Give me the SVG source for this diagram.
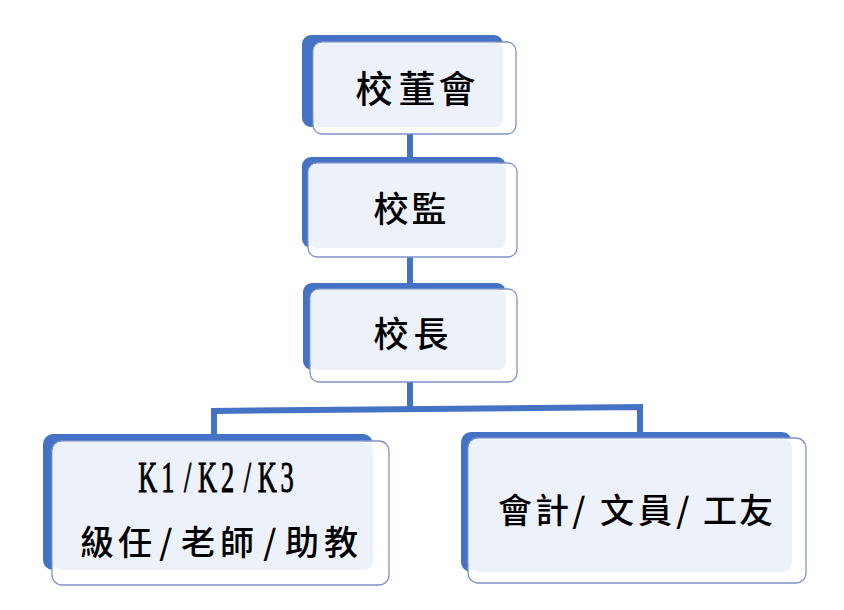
<svg xmlns="http://www.w3.org/2000/svg" width="844" height="610" viewBox="0 0 844 610">
<style>
.blue{fill:#4472C4}
.outer{fill:#FFFFFF;stroke:#7F93C4;stroke-width:1.3}
.inner{fill:#EDF1F9}
.edge{fill:none;stroke:#4472C4;stroke-width:6}
.t{font-family:"Noto Sans CJK TC","Noto Sans CJK SC",sans-serif;fill:#000;text-anchor:middle;font-weight:500}
.m{font-family:"Liberation Serif",serif;fill:#000;stroke:#000;stroke-width:1;text-anchor:middle}
</style>
<rect width="844" height="610" fill="#FFFFFF"/>
<g id="connectors">
<line class="edge" x1="410" y1="128" x2="410" y2="165"/>
<line class="edge" x1="410" y1="250" x2="410" y2="290"/>
<line class="edge" x1="410" y1="378" x2="410" y2="410"/>
<polyline class="edge" points="214,437 214,411 640,407 640,434"/>
</g>
<g id="n1">
<rect class="blue" x="302" y="35" width="201" height="92" rx="9"/>
<rect class="outer" x="313" y="42" width="203" height="92" rx="9"/>
<rect class="inner" x="313.7" y="42.7" width="189.3" height="84.3" rx="8"/>
<text class="t" font-size="37" x="374 417 457" y="103">校董會</text>
</g>
<g id="n2">
<rect class="blue" x="302" y="157" width="204" height="91" rx="9"/>
<rect class="outer" x="308" y="163" width="209" height="94" rx="9"/>
<rect class="inner" x="308.7" y="163.7" width="197.3" height="84.3" rx="8"/>
<text class="t" font-size="35" x="391 429" y="222">校監</text>
</g>
<g id="n3">
<rect class="blue" x="303" y="283" width="203" height="87" rx="9"/>
<rect class="outer" x="310" y="289" width="207" height="93" rx="9"/>
<rect class="inner" x="310.7" y="289.7" width="195.3" height="80.3" rx="8"/>
<text class="t" font-size="35" x="391 431" y="347">校長</text>
</g>
<g id="n4">
<rect class="blue" x="43" y="434" width="330" height="136" rx="10"/>
<rect class="outer" x="52" y="441" width="337" height="144" rx="10"/>
<rect class="inner" x="52.7" y="441.7" width="320.3" height="128.3" rx="9"/>
<text class="m" font-size="44" transform="scale(0.6,1)" x="246.5 279.7 312.8 346.0 379.2 412.3 445.5 478.7" y="492">K1/K2/K3</text>
<text class="t" font-size="34" x="97 135 166 198 237 270 302 341" y="555">級任/老師/助教</text>
</g>
<g id="n5">
<rect class="blue" x="461" y="432" width="331" height="140" rx="10"/>
<rect class="outer" x="468" y="438" width="338" height="145" rx="10"/>
<rect class="inner" x="468.7" y="438.7" width="323.3" height="133.3" rx="9"/>
<text class="t" font-size="34" x="515 552 579 617 655 683 720 756" y="523">會計/文員/工友</text>
</g>
</svg>
